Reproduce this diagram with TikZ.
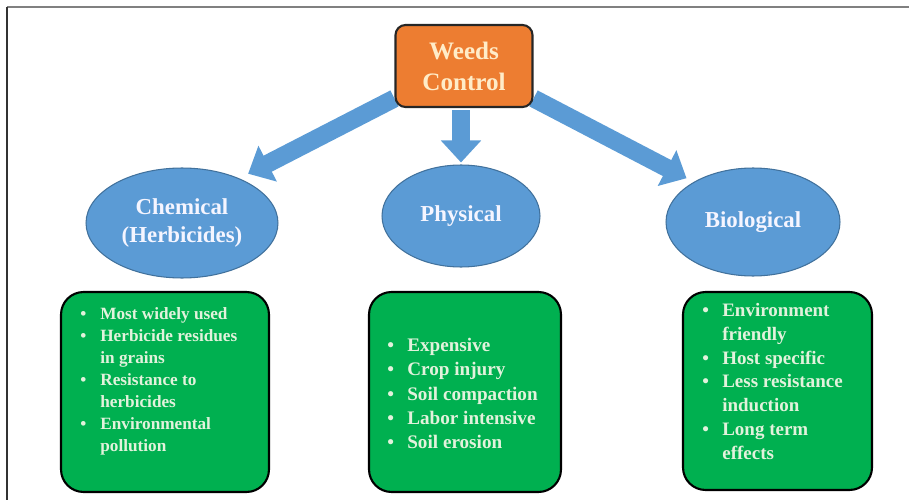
\documentclass[tikz,border=0pt]{standalone}
\usepackage{fontspec}
\setmainfont{Liberation Serif}
\usetikzlibrary{shapes.geometric,arrows.meta,backgrounds}
\definecolor{blueshape}{RGB}{91,155,213}
\definecolor{blueedge}{RGB}{65,113,156}
\definecolor{orangebox}{RGB}{237,125,49}
\definecolor{greenbox}{RGB}{0,176,80}
\definecolor{creamtext}{RGB}{255,236,200}
\definecolor{minttext}{RGB}{226,242,220}
\newcommand{\itm}{\makebox[0.4cm][l]{\textbullet}}
\newcommand{\cnt}{\hspace*{0.4cm}}

\begin{document}
\begin{tikzpicture}[x=0.02cm,y=-0.02cm,
  headbox/.style={draw=black!85, line width=1.2pt, fill=orangebox, rounded corners=0.2cm,
    minimum width=2.74cm, minimum height=1.64cm, text=creamtext, align=center,
    font=\bfseries\fontsize{14.3}{17.6}\selectfont},
  kind/.style={ellipse, draw=blueedge, line width=0.6pt, fill=blueshape, text=white!96!blue,
    align=center, inner sep=0pt, font=\bfseries\fontsize{13}{16.5}\selectfont},
  listbox/.style={draw=black, line width=1.2pt, fill=greenbox, rounded corners=0.45cm, minimum height=4cm},
  listtext/.style={anchor=west, text=minttext, align=left, inner sep=0pt},
  bigarrow/.style={blueshape, line width=0.36cm, -{Triangle[width=0.78cm,length=0.44cm]}}
]
\useasboundingbox (0,0) rectangle (909,500);
\draw[gray, line width=1.2pt] (7,7) -- (909,7);	%top rule
\draw[black!80, line width=0.7pt] (7,7) -- (7,500);	%left rule

\node[headbox] (ctrl) at (464,66) {Weeds\\Control};

\node[kind, minimum width=3.84cm, minimum height=2.2cm] (chem) at (182,223) {Chemical\\(Herbicides)};
\node[kind, minimum width=3.16cm, minimum height=2.04cm] (phys) at (461,216) {Physical};
\node[kind, minimum width=3.48cm, minimum height=2.16cm] (bio) at (753,222) {Biological};

\begin{scope}[on background layer]
\draw[bigarrow, shorten >=0.2cm] (ctrl.205) -- (chem.38);	%chemical
\draw[bigarrow, shorten <=0.04cm, shorten >=0.04cm] (phys.north |- ctrl.south) -- (phys.north);	%physical
\draw[bigarrow, shorten >=0.16cm] (ctrl.-25) -- (bio.146);	%biological
\end{scope}

\node[listbox, minimum width=4.16cm] (chembox) at (165,392) {};
\node[listbox, minimum width=3.84cm] (physbox) at (465,392) {};
\node[listbox, minimum width=3.78cm, minimum height=3.96cm] (biobox) at (777.5,391) {};

\node[listtext, font=\bfseries\fontsize{9.8}{12.5}\selectfont] (chemlist) at (80,381)
  {\itm Most widely used\\ \itm Herbicide residues\\ \cnt in grains\\ \itm Resistance to\\ \cnt herbicides\\ \itm Environmental\\ \cnt pollution};
\node[listtext, font=\bfseries\fontsize{10.9}{13.7}\selectfont] (physlist) at (387,393.5)
  {\itm Expensive\\ \itm Crop injury\\ \itm Soil compaction\\ \itm Labor intensive\\ \itm Soil erosion};
\node[listtext, font=\bfseries\fontsize{10.8}{13.5}\selectfont] (biolist) at (702,381.5)
  {\itm Environment\\ \cnt friendly\\ \itm Host specific\\ \itm Less resistance\\ \cnt induction\\ \itm Long term\\ \cnt effects};
\end{tikzpicture}
\end{document}
